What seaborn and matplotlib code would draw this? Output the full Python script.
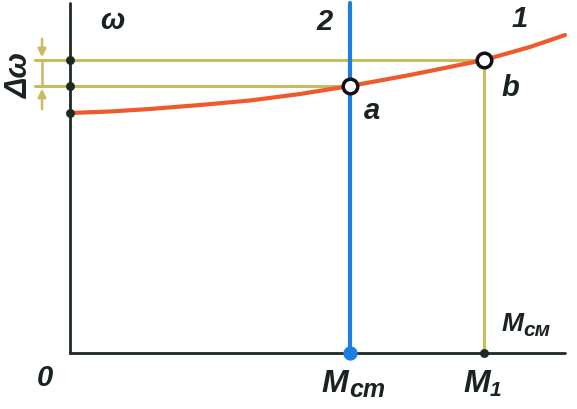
import numpy as np
import pandas as pd
import seaborn as sns
from matplotlib import pyplot as plt

# curve 1 (motor speed vs torque), axes units ~ pixels from origin
curve_x = [0, 40, 80, 130, 180, 230, 280, 340, 414, 460, 495]
curve_y = [240, 241.5, 244, 248, 252.5, 259, 267, 278, 293, 306, 318]
m_cm = 280      # load torque, line 2
m_1 = 414       # torque at point b
w_a = 267
w_b = 293
w_0 = 240

sns.set_style('white')
plt.rcParams['font.family'] = ['Liberation Sans', 'DejaVu Sans']

fig = plt.figure(figsize=(5.77, 4.09), dpi=100)
ax = fig.add_axes([0, 0, 1, 1])
ax.set_xlim(-70, 507)
ax.set_ylim(-56, 353)
ax.axis('off')

yel = '#c9bb62'
blue = '#1b7ee0'
red = '#ee5a2c'
dark = '#1d2a22'

# helper lines
ax.plot([-35, m_1], [w_b, w_b], color=yel, lw=2.2, zorder=1)
ax.plot([-35, m_cm], [w_a, w_a], color=yel, lw=2.2, zorder=1)
ax.plot([m_1, m_1], [0, w_b], color=yel, lw=2.2, zorder=1)

# delta omega marks
ax.annotate('', xy=(-28, w_b), xytext=(-28, w_b + 24),
            arrowprops=dict(arrowstyle='-|>', color=yel, lw=1.8, mutation_scale=12))
ax.annotate('', xy=(-28, w_a), xytext=(-28, w_a - 26),
            arrowprops=dict(arrowstyle='-|>', color=yel, lw=1.8, mutation_scale=12))
ax.plot([-28, -28], [w_a, w_b], color=yel, lw=1.8)

# axes
ax.plot([0, 0], [0, 350], color=dark, lw=2)
ax.plot([0, 495], [0, 0], color=dark, lw=2)

# line 2
ax.plot([m_cm, m_cm], [0, 350], color=blue, lw=3, zorder=2)

# curve 1
df = pd.DataFrame({'M': curve_x, 'w': curve_y})
sns.lineplot(data=df, x='M', y='w', color=red, lw=3, ax=ax, zorder=3)

# points on the axis
sns.scatterplot(x=[0, 0, 0, m_1], y=[w_b, w_a, w_0, 0], color=dark, s=35, ax=ax, zorder=4, edgecolor=None)
sns.scatterplot(x=[m_cm], y=[0], color=blue, s=90, ax=ax, zorder=4, edgecolor=None)
# points a and b
sns.scatterplot(x=[m_cm, m_1], y=[w_a, w_b], color='white', s=110, ax=ax, zorder=5,
                edgecolor='#111111', linewidth=2.5)

tkw = dict(fontweight='bold', fontstyle='italic', color='#1a2320')
ax.text(30, 332, 'ω', fontsize=21, ha='left', va='center', **tkw)
ax.text(255, 331, '2', fontsize=21, ha='center', va='center', **tkw)
ax.text(450, 334, '1', fontsize=21, ha='center', va='center', **tkw)
ax.text(302, 242, 'a', fontsize=21, ha='center', va='center', **tkw)
ax.text(440, 265, 'b', fontsize=21, ha='center', va='center', **tkw)
ax.text(-50, 278, 'Δω', fontsize=22, rotation=90, ha='center', va='center', **tkw)
ax.text(-25, -25, '0', fontsize=21, ha='center', va='center', **tkw)
ax.text(265, -31, 'M', fontsize=23, ha='center', va='center', **tkw)
ax.text(279, -37, 'cm', fontsize=18, ha='left', va='center', **tkw)
ax.text(407, -31, 'M', fontsize=23, ha='center', va='center', **tkw)
ax.text(420, -37, '1', fontsize=15, ha='left', va='center', **tkw)
ax.text(432, 29, 'M', fontsize=19, ha='left', va='center', **tkw)
ax.text(453, 23, 'см', fontsize=15, ha='left', va='center', **tkw)

fig.savefig('out.png', dpi=100)
